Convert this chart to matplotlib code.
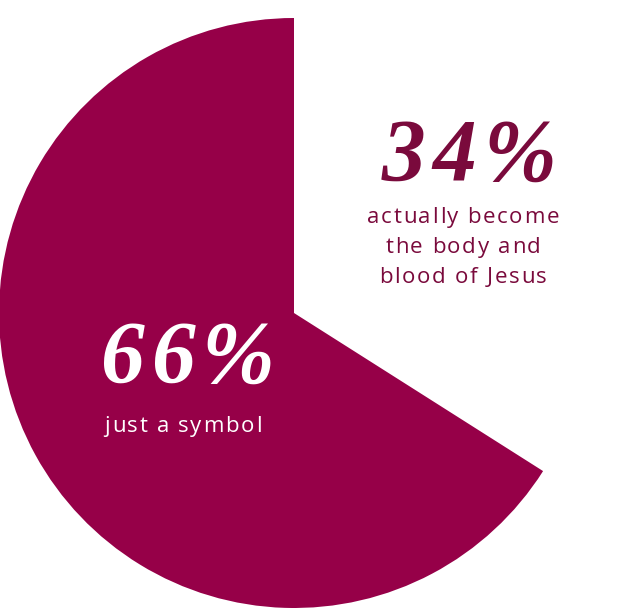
import matplotlib
matplotlib.use("Agg")
import matplotlib.pyplot as plt
from matplotlib.font_manager import FontProperties, findfont, get_font

labels = ["just a symbol", "actually become\nthe body and\nblood of Jesus"]
values = [66, 34]
pct_labels = ["66%", "34%"]

W, H = 618, 608
DPI = 100
fig = plt.figure(figsize=(W / DPI, H / DPI), dpi=DPI)
ax = fig.add_axes([0, 0, 1, 1])

maroon = "#960048"
dark = "#7a0a3c"

ax.pie(values, colors=[maroon, "none"], startangle=90, counterclock=True,
       center=(294, H - 313), radius=295, frame=True,
       wedgeprops=dict(linewidth=0))
ax.set_xlim(0, W)
ax.set_ylim(0, H)
ax.set_aspect("equal")
ax.axis("off")


def char_positions(s, prop, size):
    """Return x offsets (px) of each char and total advance (px)."""
    font = get_font(findfont(prop))
    font.set_size(size, DPI)
    xs = []
    x = 0.0
    prev = None
    for c in s:
        gi = font.get_char_index(ord(c))
        if prev is not None:
            x += font.get_kerning(prev, gi, 0) / 64.0
        xs.append(x)
        g = font.load_char(ord(c))
        x += g.linearHoriAdvance / 65536.0
        prev = gi
    return xs, x


def spaced_text(x, y, s, size, spacing, color, prop_kw, line_h=None):
    prop = FontProperties(**prop_kw)
    lines = s.split("\n")
    n = len(lines)
    for i, line in enumerate(lines):
        xs, total = char_positions(line, prop, size)
        total += spacing * (len(line) - 1)
        x0 = x - total / 2
        yy = y + ((n - 1) / 2 - i) * (line_h or 0)
        for j, c in enumerate(line):
            if c == " ":
                continue
            ax.text(x0 + xs[j] + j * spacing, yy, c, color=color,
                    fontproperties=prop, fontsize=size, ha="left",
                    va="baseline")


serif = dict(family="Liberation Serif", style="italic", weight="bold")
sans = dict(family="Open Sans")

# 66% slice labels (baseline y in pixel coordinates)
spaced_text(187, H - 382, pct_labels[0], 63, 7, "white", serif)
spaced_text(183, H - 432, labels[0], 16, 1.7, "white", sans)

# 34% slice labels
spaced_text(469, H - 180, pct_labels[1], 63, 7, dark, serif)
spaced_text(463, H - 253, labels[1], 16, 1.7, dark, sans, line_h=30)

fig.savefig("out.png", dpi=DPI)
